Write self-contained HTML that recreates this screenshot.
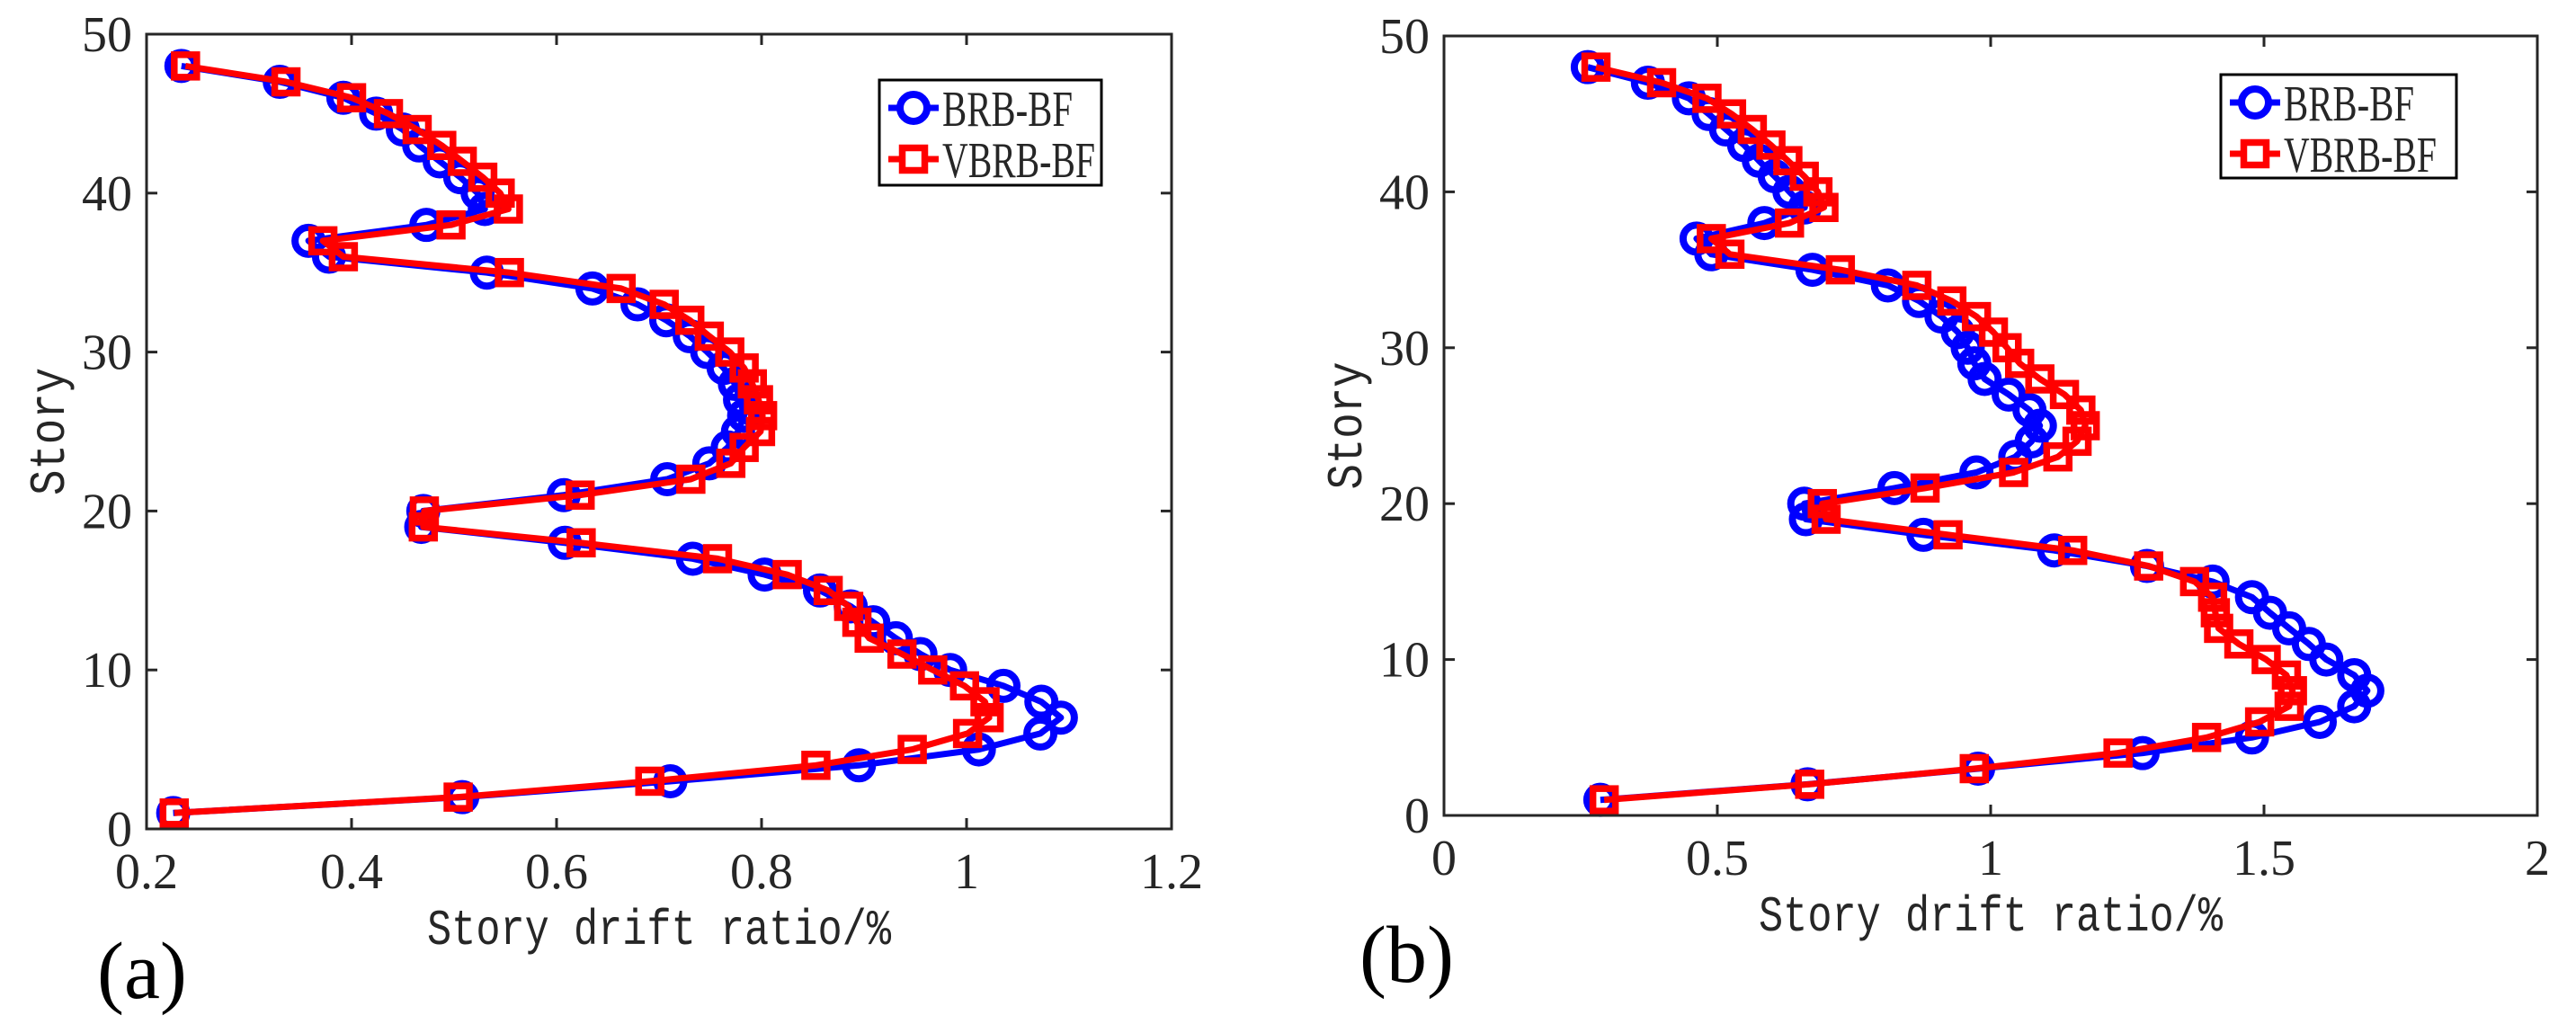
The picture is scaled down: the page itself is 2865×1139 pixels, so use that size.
<!DOCTYPE html>
<html><head><meta charset="utf-8"><style>
html,body{margin:0;padding:0;background:#fff;}
svg{display:block;}
</style></head><body>
<svg id="fig" width="2865" height="1139" xmlns="http://www.w3.org/2000/svg"></svg>
<script>
const stories = [48,47,46,45,44,43,42,41,40,39,38,37,36,35,34,33,32,31,30,29,28,27,26,25,24,23,22,21,20,19,18,17,16,15,14,13,12,11,10,9,8,7,6,5,4,3,2,1];
const brbA = [0.234,0.330,0.392,0.424,0.450,0.466,0.486,0.506,0.523,0.530,0.473,0.358,0.378,0.532,0.635,0.679,0.707,0.730,0.747,0.763,0.774,0.779,0.783,0.777,0.767,0.749,0.708,0.607,0.470,0.468,0.608,0.733,0.803,0.857,0.887,0.909,0.931,0.955,0.984,1.036,1.073,1.092,1.072,1.012,0.895,0.711,0.508,0.226];
const vbrbA = [0.238,0.336,0.400,0.436,0.464,0.488,0.508,0.528,0.545,0.553,0.497,0.372,0.392,0.554,0.663,0.705,0.730,0.749,0.769,0.783,0.791,0.797,0.801,0.799,0.783,0.770,0.731,0.623,0.471,0.470,0.624,0.757,0.825,0.865,0.885,0.893,0.905,0.937,0.967,0.998,1.018,1.022,1.001,0.947,0.853,0.691,0.504,0.227];
const brbB = [0.263,0.373,0.448,0.484,0.516,0.549,0.576,0.605,0.632,0.660,0.586,0.462,0.489,0.674,0.812,0.869,0.910,0.940,0.958,0.970,0.989,1.033,1.071,1.090,1.075,1.045,0.974,0.824,0.659,0.662,0.877,1.116,1.286,1.406,1.478,1.511,1.546,1.582,1.614,1.665,1.689,1.665,1.602,1.478,1.278,0.977,0.665,0.286];
const vbrbB = [0.278,0.398,0.481,0.526,0.564,0.598,0.629,0.659,0.684,0.695,0.632,0.489,0.523,0.725,0.865,0.929,0.974,1.005,1.030,1.053,1.090,1.135,1.165,1.173,1.158,1.123,1.042,0.880,0.692,0.699,0.922,1.150,1.289,1.373,1.406,1.411,1.417,1.454,1.504,1.541,1.552,1.546,1.492,1.395,1.233,0.970,0.669,0.293];
const xTicksA = [0.2,0.4,0.6,0.8,1,1.2];
const xTickLabelsA = ["0.2","0.4","0.6","0.8","1","1.2"];
const xTicksB = [0,0.5,1,1.5,2];
const xTickLabelsB = ["0","0.5","1","1.5","2"];
const yTicks = [0,10,20,30,40,50];
const seriesNames = ["BRB-BF","VBRB-BF"];

const NS="http://www.w3.org/2000/svg";
const svg=document.getElementById('fig');
function mk(tag,attrs,parent){const e=document.createElementNS(NS,tag);for(const k in attrs)e.setAttribute(k,attrs[k]);(parent||svg).appendChild(e);return e;}

function panel(cfg){
  const g=mk('g',{});
  
  
  const sx=v=>cfg.L+(v-cfg.xmin)/(cfg.xmax-cfg.xmin)*(cfg.R-cfg.L);
  const sy=v=>cfg.B-(v-0)/50*(cfg.B-cfg.T);
  const drawSeries=(vals,color,marker,nm)=>{
    const sg=mk('g',{},g);
    
    
    let d='';
    vals.forEach((v,i)=>{d+=(i?'L':'M')+sx(v).toFixed(1)+' '+sy(stories[i]).toFixed(1);});
    const p=mk('path',{d:d,fill:'none',stroke:color,'stroke-width':7,'stroke-linejoin':'round'},sg);
    
    
    vals.forEach((v,i)=>{
      let m;
      if(marker==='o'){m=mk('circle',{cx:sx(v),cy:sy(stories[i]),r:15,fill:'none',stroke:color,'stroke-width':8},sg);}
      else{m=mk('rect',{x:sx(v)-12.5,y:sy(stories[i])-12.5,width:25,height:25,fill:'none',stroke:color,'stroke-width':7.5},sg);}
      
      
    });
  };
  drawSeries(cfg.b,'#0000ff','o','brb-bf-series');
  drawSeries(cfg.v,'#ff0000','s','vbrb-bf-series');
  const box=mk('rect',{x:cfg.L,y:cfg.T,width:cfg.R-cfg.L,height:cfg.B-cfg.T,fill:'none',stroke:'#262626','stroke-width':3},g);
  
  
  cfg.xt.forEach((t,i)=>{
    const x=sx(t);
    mk('line',{x1:x,y1:cfg.B,x2:x,y2:cfg.B-12,stroke:'#262626','stroke-width':3},g);
    mk('line',{x1:x,y1:cfg.T,x2:x,y2:cfg.T+12,stroke:'#262626','stroke-width':3},g);
    const tx=mk('text',{x:x,y:cfg.B+66,'text-anchor':'middle','font-family':'Liberation Serif, serif','font-size':56,fill:'#262626'},g);
    tx.textContent=cfg.xl[i];
    
    
  });
  yTicks.forEach(t=>{
    const y=sy(t);
    mk('line',{x1:cfg.L,y1:y,x2:cfg.L+12,y2:y,stroke:'#262626','stroke-width':3},g);
    mk('line',{x1:cfg.R,y1:y,x2:cfg.R-12,y2:y,stroke:'#262626','stroke-width':3},g);
    const tx=mk('text',{x:cfg.L-16,y:y+19,'text-anchor':'end','font-family':'Liberation Serif, serif','font-size':56,fill:'#262626'},g);
    tx.textContent=String(t);
    
    
  });
  const xt=mk('text',{x:(cfg.L+cfg.R)/2,y:cfg.B+128,'text-anchor':'middle','font-family':'Liberation Mono, monospace','font-size':56,fill:'#262626',textLength:516,lengthAdjust:'spacingAndGlyphs'},g);
  xt.textContent='Story drift ratio/%';
  
  
  const yc=(cfg.T+cfg.B)/2;
  const yt=mk('text',{x:0,y:0,transform:`translate(${cfg.L-92},${yc}) rotate(-90)`,'text-anchor':'middle','font-family':'Liberation Mono, monospace','font-size':56,fill:'#262626',textLength:142,lengthAdjust:'spacingAndGlyphs'},g);
  yt.textContent='Story';
  
  
  const lab=mk('text',{x:cfg.labX,y:cfg.labY,'font-family':'Liberation Serif, serif','font-size':90,fill:'#000'},g);
  lab.textContent=cfg.lab;
  
  
  const lg=mk('g',{},g);
  
  
  mk('rect',{x:cfg.lx,y:cfg.ly,width:cfg.lw,height:cfg.lh,fill:'#fff',stroke:'#000','stroke-width':3},lg);
  seriesNames.forEach((n,i)=>{
    const y=cfg.ly+31+i*57, x0=cfg.lx+10, x1=cfg.lx+66, xm=(x0+x1)/2;
    const color=i?'#ff0000':'#0000ff';
    const eg=mk('g',{},lg);
    
    
    mk('line',{x1:x0,y1:y,x2:x1,y2:y,stroke:color,'stroke-width':7},eg);
    if(i) mk('rect',{x:xm-12.5,y:y-12.5,width:25,height:25,fill:'#fff',stroke:color,'stroke-width':7.5},eg);
    else mk('circle',{cx:xm,cy:y,r:15,fill:'#fff',stroke:color,'stroke-width':8},eg);
    const t=mk('text',{x:x1+4,y:y+20,'font-family':'Liberation Serif, serif','font-size':56,fill:'#262626',textLength:i?170:145,lengthAdjust:'spacingAndGlyphs'},eg);
    t.textContent=n;
  });
}
panel({name:'chart-a',L:163,R:1303,T:38,B:922,xmin:0.2,xmax:1.2,b:brbA,v:vbrbA,xt:xTicksA,xl:xTickLabelsA,lab:'(a)',labX:108,labY:1110,lx:978,ly:89,lw:247,lh:117});
panel({name:'chart-b',L:1606,R:2822,T:40,B:907,xmin:0,xmax:2,b:brbB,v:vbrbB,xt:xTicksB,xl:xTickLabelsB,lab:'(b)',labX:1512,labY:1092,lx:2470,ly:83,lw:262,lh:115});
</script>
</body></html>
